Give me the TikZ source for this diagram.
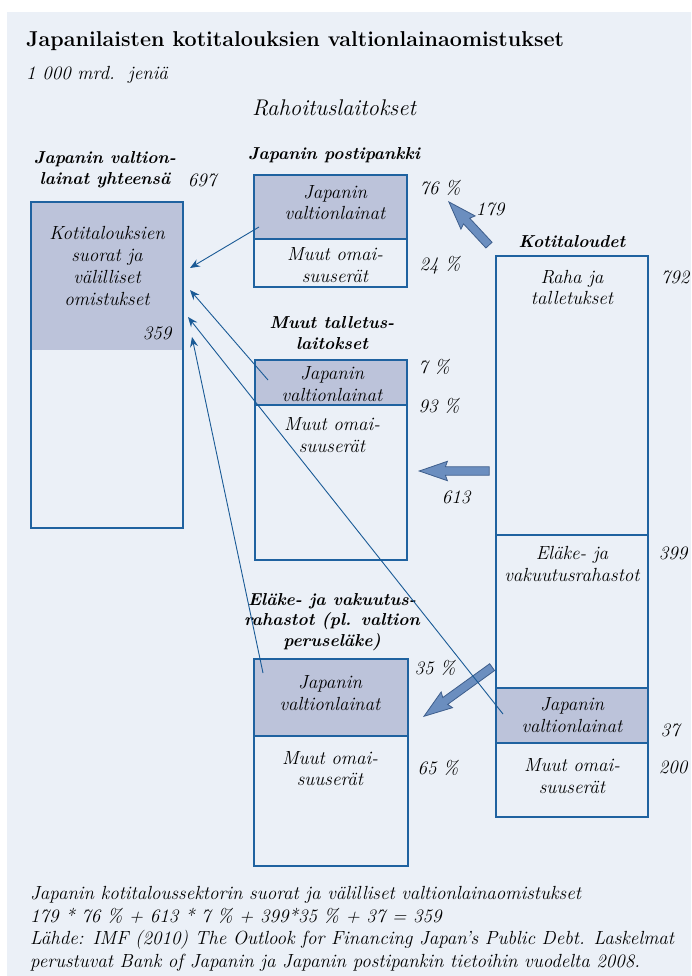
\documentclass[tikz,border=0pt]{standalone}
\usepackage{fontspec}
\usetikzlibrary{arrows.meta,shapes.arrows}
\definecolor{panel}{HTML}{EBF0F7}
\definecolor{bondfill}{HTML}{BCC3DA}
\definecolor{frame}{HTML}{1F62A0}
\definecolor{linkcol}{HTML}{1A5A96}
\definecolor{flowfill}{HTML}{6B8EBF}
\definecolor{flowline}{HTML}{3E5E8C}
\tikzset{
  txt/.style={font=\fontsize{19}{21.7}\selectfont\itshape, align=center, inner sep=0pt},
  hdr/.style={font=\fontsize{17.3}{20.8}\selectfont\bfseries\itshape, align=center, inner sep=0pt},
  box/.style={draw=frame, line width=1.1pt},
  bond/.style={fill=bondfill},
  link/.style={draw=linkcol, line width=0.9pt, -{Stealth[length=10pt,width=8pt,inset=3.5pt]}},
  flow/.style={single arrow, draw=flowline, fill=flowfill, line width=0.8pt, inner xsep=0pt, inner ysep=3.8pt,
    minimum width=0pt, single arrow head extend=5.5pt, single arrow tip angle=38,
    single arrow head indent=2pt, anchor=tip}
}
\begin{document}
\begin{tikzpicture}[x=1pt,y=-1pt]
\useasboundingbox (0,0) rectangle (691,976);
\fill[panel] (7,12) rectangle (691,976);
\node[anchor=west, inner sep=0pt, font=\fontsize{21.5}{26}\selectfont\bfseries] (title) at (26,41) {Japanilaisten kotitalouksien valtionlainaomistukset};
\node[txt, anchor=west] (unit) at (26,75) {1 000 mrd.\ \ jeniä};
\node[txt, font=\fontsize{22.7}{24}\selectfont\itshape] (rahoitus) at (334,108) {Rahoituslaitokset};

\fill[bond] (31,202) rectangle (183,350);
\draw[box] (31,202) rectangle (183,528);
\node[hdr] (tothdr) at (105,169.5) {Japanin valtion-\\lainat yhteensä};
\node[txt] (totnum) at (202,180) {697};
\node[txt] (totbond) at (107,266) {Kotitalouksien\\suorat ja\\välilliset\\omistukset};
\node[txt] (totval) at (157,333) {359};

\fill[bond] (254,175) rectangle (407,239);
\draw[box] (254,175) rectangle (407,287) (254,239) -- (407,239);
\node[hdr] (pphdr) at (334,155) {Japanin postipankki};
\node[txt] (ppbond) at (335,202.5) {Japanin\\valtionlainat};
\node[txt] (ppother) at (335,265) {Muut omai-\\suuserät};
\node[txt] (ppa) at (440,188) {76 \%};
\node[txt] (ppb) at (440,265) {24 \%};

\fill[bond] (255,360) rectangle (407,405);
\draw[box] (255,360) rectangle (407,560) (255,405) -- (407,405);
\node[hdr] (mthdr) at (332,333) {Muut talletus-\\laitokset};
\node[txt] (mtbond) at (332,384) {Japanin\\valtionlainat};
\node[txt] (mtother) at (332,435) {Muut omai-\\suuserät};
\node[txt] (mta) at (434,367) {7 \%};
\node[txt] (mtb) at (439,406) {93 \%};

\fill[bond] (254,659) rectangle (408,736);
\draw[box] (254,659) rectangle (408,866) (254,736) -- (408,736);
\node[hdr] (ervhdr) at (332,622) {Eläke- ja vakuutus-\\rahastot (pl. valtion\\peruseläke)};
\node[txt] (ervbond) at (330,693) {Japanin\\valtionlainat};
\node[txt] (ervother) at (330,768.5) {Muut omai-\\suuserät};
\node[txt] (erva) at (435,668) {35 \%};
\node[txt] (ervb) at (438,768) {65 \%};

\fill[bond] (496,688) rectangle (648,743);
\draw[box] (496,256) rectangle (648,817) (496,535) -- (648,535) (496,688) -- (648,688) (496,743) -- (648,743);
\node[hdr] (kohdr) at (572,242) {Kotitaloudet};
\node[txt] (koraha) at (572,287.5) {Raha ja\\talletukset};
\node[txt] (koelake) at (572,564) {Eläke- ja\\vakuutusrahastot};
\node[txt] (kobond) at (572,715) {Japanin\\valtionlainat};
\node[txt] (koother) at (572,776) {Muut omai-\\suuserät};
\node[txt] (korahanum) at (675,277) {792};
\node[txt] (koelakenum) at (673,553) {399};
\node[txt] (kobondnum) at (670,730) {37};
\node[txt] (koothernum) at (673,767) {200};

\node[flow, minimum height=59pt, rotate=132.9] (flowpp) at (448,201) {};
\node[txt] (flowppnum) at (490,209) {179};
\node[flow, minimum height=70pt, rotate=180] (flowmt) at (418,471) {};
\node[txt] (flowmtnum) at (456,497) {613};
\node[flow, minimum height=84pt, rotate=215.8] (flowerv) at (423,717) {};

\coordinate (pplink) at (259,227);
\coordinate (mtlink) at (268,380);
\coordinate (kolink) at (503,714);
\coordinate (ervlink) at (263,673);
\coordinate (tot1) at (190,268);
\coordinate (tot2) at (190,290);
\coordinate (tot3) at (188,317);
\coordinate (tot4) at (192,337);
\draw[link] (pplink) -- (tot1);
\draw[link] (mtlink) -- (tot2);
\draw[link] (kolink) -- (tot3);
\draw[link] (ervlink) -- (tot4);

\node[txt, anchor=north west, align=left, font=\fontsize{19}{22.8}\selectfont\itshape] (note) at (30,886) {Japanin kotitaloussektorin suorat ja välilliset valtionlainaomistukset\\179 * 76 \% + 613 * 7 \% + 399*35 \% + 37 = 359\\Lähde: IMF (2010) The Outlook for Financing Japan’s Public Debt. Laskelmat\\perustuvat Bank of Japanin ja Japanin postipankin tietoihin vuodelta 2008.};
\end{tikzpicture}
\end{document}
